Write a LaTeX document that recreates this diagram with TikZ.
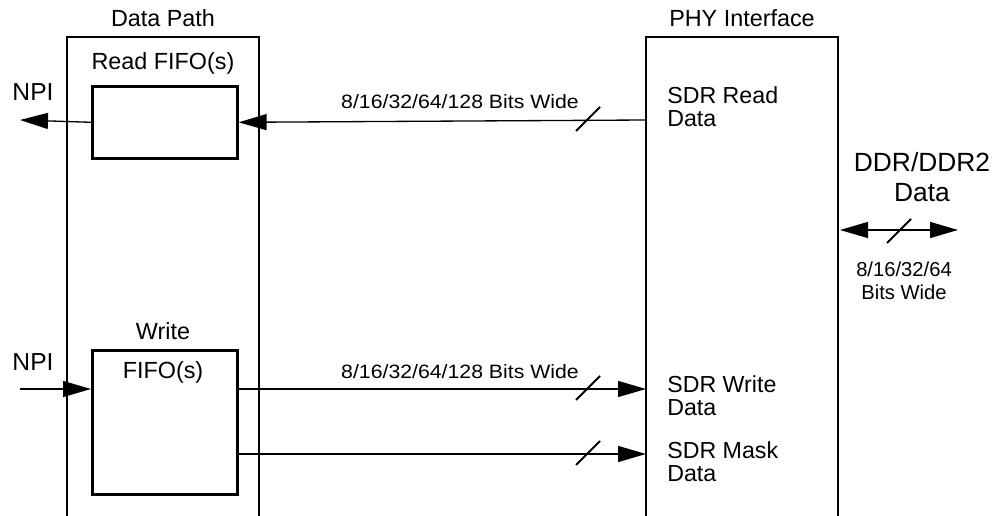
\documentclass[tikz,border=0pt]{standalone}
\usepackage{fontspec}
\setmainfont{Liberation Sans}
\newfontfamily\widefont{Liberation Sans}[FakeStretch=1.1]
\usetikzlibrary{arrows.meta,positioning}

\tikzset{
    fifo/.style    = {draw, line width=1.5pt, inner sep=0pt, anchor=north west, minimum width=2.9cm},
    wall/.style    = {line width=1.5pt},
    bus/.style     = {line width=0.75pt, -{Triangle[length=0.56cm,width=0.32cm]}},
    twoway/.style  = {line width=0.75pt, {Triangle[length=0.56cm,width=0.32cm]}-{Triangle[length=0.56cm,width=0.32cm]}},
    slashmark/.style = {line width=1.2pt},
    title/.style   = {font=\fontsize{13.3}{14}\selectfont, inner sep=0pt},
    port/.style    = {font=\fontsize{14}{14}\selectfont, inner sep=0pt},
    sig/.style     = {font=\fontsize{13.2}{13}\selectfont, inner sep=0pt, align=left, anchor=west},
    width/.style   = {font=\widefont\fontsize{11}{13}\selectfont, inner sep=0pt, align=center},
}

\begin{document}
\begin{tikzpicture}[x=0.02cm, y=-0.02cm]
    \useasboundingbox (0,0) rectangle (994,516);

    % Data Path and PHY Interface blocks (open at the bottom)
    \draw[wall] (67,516) -- (67,37) -- (259,37) -- (259,516);
    \draw[wall] (646,516) -- (646,37) -- (838,37) -- (838,516);

    \node[title] (dpath) at (163,18) {Data Path};
    \node[title] (phy)   at (742,18) {PHY Interface};

    % FIFOs
    \node[fifo, minimum height=1.44cm] (rfifo) at (91,85)  {};
    \node[fifo, minimum height=2.88cm] (wfifo) at (91,349) {};

    \node[title] (rlabel) at (163,63)  {Read FIFO(s)};
    \node[title] (wlabel) at (163,331) {Write};
    \node[title] (wfifolabel) at (163,372) {FIFO(s)};

    % NPI side
    \node[port] (npiR) at (33,92)  {NPI};
    \node[port] (npiW) at (33,362) {NPI};
    \coordinate (npiOut) at (20,120);
    \coordinate (npiIn)  at (20,389);

    \draw[bus] (rfifo.west) -- (npiOut);
    \draw[bus] (npiIn) -- (wfifo.west |- npiIn);

    % PHY side signals
    \coordinate (rdport) at (646,120);
    \coordinate (wrport) at (646,389);
    \coordinate (mkport) at (646,454);

    \node[sig] (rdsig) at (667,107) {SDR Read\\Data};
    \node[sig] (wrsig) at (667,396) {SDR Write\\Data};
    \node[sig] (mksig) at (667,462) {SDR Mask\\Data};

    \draw[bus] (rdport) -- (rfifo.east);
    \draw[bus] (wfifo.east |- wrport) -- (wrport);
    \draw[bus] (wfifo.east |- mkport) -- (mkport);

    \node[width] (rdwidth) at (460,102) {8/16/32/64/128 Bits Wide};
    \node[width] (wrwidth) at (460,372) {8/16/32/64/128 Bits Wide};

    % bus width slashes
    \foreach \sx/\sy in {588/119, 588/388, 588/453, 899/231}
        \draw[slashmark] (\sx,\sy) ++(-12,12) -- ++(24,-24);

    % DDR/DDR2 memory side
    \coordinate (ddrL) at (840,230);
    \coordinate (ddrR) at (958,230);
    \draw[twoway] (ddrL) -- (ddrR);

    \node[title, font=\fontsize{15}{17.5}\selectfont, align=center] (ddr) at (922,177) {DDR/DDR2\\Data};
    \node[width, font=\fontsize{11.5}{13}\selectfont] (ddrwidth) at (904,281) {8/16/32/64\\Bits Wide};
\end{tikzpicture}
\end{document}
